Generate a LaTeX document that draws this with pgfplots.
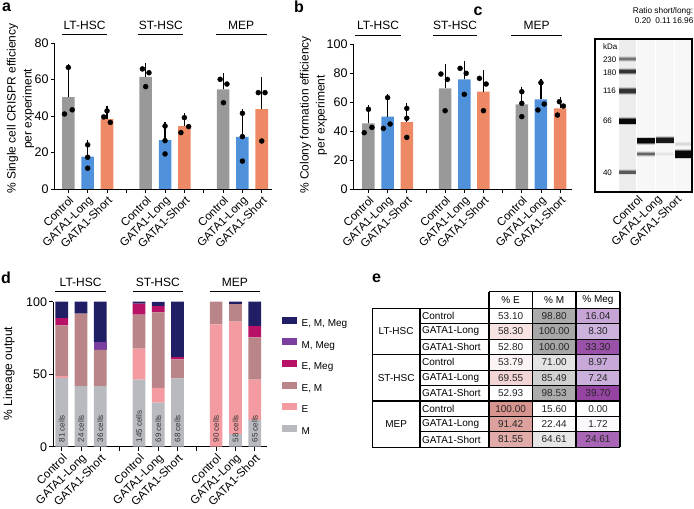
\documentclass[border=0pt]{standalone}
\usepackage{pgfplots}
\pgfplotsset{compat=1.18}
\usepackage{fontspec}
\setmainfont{Liberation Sans}
\definecolor{cgray}{RGB}{153,153,153}
\definecolor{cblue}{RGB}{79,146,219}
\definecolor{corange}{RGB}{238,137,102}
\definecolor{dM}{RGB}{184,186,191}
\definecolor{dE}{RGB}{243,155,161}
\definecolor{dEM}{RGB}{186,133,137}
\definecolor{dEMeg}{RGB}{183,18,102}
\definecolor{dMMeg}{RGB}{123,63,160}
\definecolor{dEMMeg}{RGB}{32,30,100}
\definecolor{tE1}{HTML}{F8E3E3}
\definecolor{tE3}{HTML}{FCF4F4}
\definecolor{tE4}{HTML}{F3D5D5}
\definecolor{tE6}{HTML}{D8948F}
\definecolor{tE7}{HTML}{DCA19D}
\definecolor{tE8}{HTML}{E0ABA8}
\definecolor{tM0}{HTML}{ABABAB}
\definecolor{tM1}{HTML}{A7A7A7}
\definecolor{tM3}{HTML}{E4E4E4}
\definecolor{tM4}{HTML}{D0D0D0}
\definecolor{tM5}{HTML}{ACACAC}
\definecolor{tM8}{HTML}{E6E6E6}
\definecolor{tG0}{HTML}{C6A5D6}
\definecolor{tG1}{HTML}{CCB2DC}
\definecolor{tG2}{HTML}{9B50A9}
\definecolor{tG3}{HTML}{C7A8D8}
\definecolor{tG4}{HTML}{CBB0DB}
\definecolor{tG5}{HTML}{9545A1}
\definecolor{tG7}{HTML}{FBF9FC}
\definecolor{tG8}{HTML}{AA66B6}
\newcommand{\fs}[1]{\fontsize{#1}{#1}\selectfont}
\newcommand{\fsl}[2]{\fontsize{#1}{#2}\selectfont}
\newcommand{\band}[7]{%
 \addplot[black!#7, line width=#4+3.5pt, forget plot] coordinates {(#1,#3) (#2,#3)};
 \addplot[black!#6, line width=#4+1.5pt, forget plot] coordinates {(#1,#3) (#2,#3)};
 \addplot[black!#5, line width=#4, forget plot] coordinates {(#1,#3) (#2,#3)};}
\newcommand{\cell}[5]{\addplot[fill=#5, draw=none, forget plot] coordinates {(#1,#3) (#2,#3) (#2,#4) (#1,#4)} --cycle;}
\newcommand{\cnt}[2]{\node[rotate=90, anchor=west, font=\fs{8}, text=black!80, inner sep=0pt] at (axis cs:#1,3) {#2 cells};}
\newcommand{\trow}[5]{%
  \node[anchor=west, font=\fs{10}, inner sep=0pt] at (axis cs:422,#1) {#2};
  \node[font=\fs{10}, text=black!85] at (axis cs:510.65,#1) {#3};
  \node[font=\fs{10}, text=black!85] at (axis cs:554.15,#1) {#4};
  \node[font=\fs{10}, text=black!85] at (axis cs:598,#1) {#5};}
\pgfplotsset{
  barpanel/.style={
    scale only axis, axis lines=left, axis line style={-, line width=0.9pt},
    tick align=outside, major tick length=4pt,
    tick style={line width=0.9pt, black},
    xtick={0,...,10},
    xticklabels={Control,GATA1-Long,GATA1-Short,,Control,GATA1-Long,GATA1-Short,,Control,GATA1-Long,GATA1-Short},
    xticklabel style={rotate=45, anchor=north east, inner sep=1.5pt, font=\fs{11.5}},
    yticklabel style={font=\fs{12.5}, inner sep=2pt},
    ylabel style={font=\fsl{12}{16}, align=center, anchor=center},
    /pgf/number format/assume math mode=true,
    clip=false,
  },
  bars/.style={ybar, bar width=0.65, bar shift=0pt, draw=none, fill=#1,
    error bars/.cd, y dir=plus, y explicit,
    error bar style={line width=1.1pt, black},
    error mark options={line width=1.1pt, black, mark size=4pt}},
  dots/.style={only marks, mark=*, mark size=2.5pt, black, mark options={fill=black}},
}
\begin{document}
\begin{tikzpicture}
\useasboundingbox (0,0) rectangle (694pt,509pt);
% panel letters
\node[font=\bfseries\fs{16}] at (6.5pt,502pt) {a};
\node[font=\bfseries\fs{16}] at (299pt,502pt) {b};
\node[font=\bfseries\fs{16}] at (478pt,498pt) {c};
\node[font=\bfseries\fs{16}] at (6pt,231pt) {d};
\node[font=\bfseries\fs{16}] at (376.5pt,231pt) {e};

% ---------------- panel a
\begin{axis}[barpanel, at={(54.8pt,320pt)}, anchor=south west, width=217pt, height=146pt,
  xmin=-0.7, xmax=10.52, ymin=0, ymax=80, ytick={0,20,40,60,80},
  ylabel={\% Single cell CRISPR efficiency\\per experiment},
  ylabel style={at={(axis description cs:-0.158,0.55)}}]
\addplot[bars=cgray] coordinates {(0,50.3) +- (0,16) (4,61.5) +- (0,5.2) (8,54.6) +- (0,6.9)};
\addplot[bars=cblue] coordinates {(1,17.7) +- (0,7) (5,26.8) +- (0,7.7) (9,28.5) +- (0,13)};
\addplot[bars=corange] coordinates {(2,38.3) +- (0,5) (6,34.5) +- (0,5) (10,43.7) +- (0,15.5)};
\addplot[dots] coordinates {(-0.2,41.1)(0,66.6)(0.2,43.4)
 (1,24.2)(1,17.4)(1,11.4)
 (1.83,39.5)(2,42.8)(2.17,36.5)
 (3.83,65.8)(4.17,63.7)(4,56.1)
 (5,34.5)(5,26.5)(5,19.2)
 (5.82,30.9)(6,39.1)(6.22,34.2)
 (7.85,60.1)(8.2,57.5)(8.02,47.3)
 (9,41.5)(9,28.7)(9,15.3)
 (9.82,52.8)(10.17,52.8)(10,26.3)};
\draw[line width=1pt] (axis cs:-0.33,84.4) -- (axis cs:2.0,84.4);
\draw[line width=1pt] (axis cs:3.62,84.4) -- (axis cs:5.95,84.4);
\draw[line width=1pt] (axis cs:7.62,84.4) -- (axis cs:10.26,84.4);
\node[font=\fs{12}] at (axis cs:0.84,89.9) {LT-HSC};
\node[font=\fs{12}] at (axis cs:4.78,89.9) {ST-HSC};
\node[font=\fs{12}] at (axis cs:8.94,89.9) {MEP};
\end{axis}

% ---------------- panel b
\begin{axis}[barpanel, at={(353.7pt,320pt)}, anchor=south west, width=218.5pt, height=145pt,
  xmin=-0.77, xmax=10.63, ymin=0, ymax=100, ytick={0,20,40,60,80,100},
  ylabel={\% Colony formation efficiency\\per experiment},
  ylabel style={at={(axis description cs:-0.184,0.51)}}]
\addplot[bars=cgray] coordinates {(0,45.3) +- (0,9.7) (4,69.4) +- (0,13.8) (8,58.4) +- (0,9.4)};
\addplot[bars=cblue] coordinates {(1,49.9) +- (0,13) (5,75.6) +- (0,9.9) (9,61.8) +- (0,11.5)};
\addplot[bars=corange] coordinates {(2,46.2) +- (0,10.1) (6,67.1) +- (0,12.2) (10,55.6) +- (0,5.3)};
\addplot[dots] coordinates {(-0.22,38.8)(0.18,42.5)(0,55.0)
 (0.78,41.8)(1.13,44.8)(1.0,63.0)
 (2,55.6)(2,48.8)(2,35.6)
 (3.78,79.3)(4.12,75.6)(4,54.0)
 (4.78,83.2)(5.1,79.8)(5,65.3)
 (5.79,76.3)(6.14,72.4)(6,54.0)
 (8,67.1)(8,59.1)(8,49.9)
 (9,73.3)(8.84,54.5)(9.17,58.6)
 (9.96,60.2)(10.17,57.2)(9.86,51.0)};
\draw[line width=1pt] (axis cs:-0.69,106.2) -- (axis cs:1.7,106.2);
\draw[line width=1pt] (axis cs:3.36,106.2) -- (axis cs:5.68,106.2);
\draw[line width=1pt] (axis cs:7.45,106.2) -- (axis cs:10.1,106.2);
\node[font=\fs{12}] at (axis cs:0.5,113.1) {LT-HSC};
\node[font=\fs{12}] at (axis cs:4.52,113.1) {ST-HSC};
\node[font=\fs{12}] at (axis cs:8.78,113.1) {MEP};
\end{axis}

% ---------------- panel c
\begin{axis}[scale only axis, at={(595pt,317pt)}, anchor=south west, width=97pt, height=153pt,
  xmin=-1.74, xmax=3.45, ymin=39, ymax=192, y dir=reverse,
  axis line style={line width=1.5pt}, ytick=\empty,
  xtick={0.53,1.56,2.6}, xticklabels={Control,GATA1-Long,GATA1-Short},
  xtick style={draw=none},
  xticklabel style={rotate=45, anchor=north east, inner sep=1.5pt, font=\fs{11.5}},
  clip=false]
\addplot[fill=black!7, draw=none, forget plot] coordinates {(-0.46,40) (0.46,40) (0.46,191) (-0.46,191)} --cycle;
\addplot[fill=black!3, draw=none, forget plot] coordinates {(0.53,40) (1.47,40) (1.47,191) (0.53,191)} --cycle;
\addplot[fill=black!3, draw=none, forget plot] coordinates {(1.53,40) (2.47,40) (2.47,191) (1.53,191)} --cycle;
\addplot[fill=black!3, draw=none, forget plot] coordinates {(2.53,40) (3.42,40) (3.42,191) (2.53,191)} --cycle;
\band{-0.46}{0.46}{59.2}{2.5pt}{55}{35}{15}
\band{-0.46}{0.46}{71.7}{3.5pt}{80}{50}{20}
\band{-0.46}{0.46}{91.2}{4pt}{80}{50}{20}
\band{-0.46}{0.46}{121.2}{5pt}{97}{60}{25}
\band{-0.46}{0.46}{172.2}{3pt}{65}{40}{15}
\band{0.53}{1.47}{140.8}{5pt}{97}{60}{20}
\band{0.53}{1.47}{154.2}{2.5pt}{60}{35}{12}
\band{1.53}{2.47}{140.3}{4.5pt}{90}{55}{18}
\band{1.53}{2.47}{154}{2pt}{10}{6}{3}
\band{2.53}{3.42}{144}{2.5pt}{15}{9}{4}
\band{2.53}{3.42}{154.2}{7pt}{97}{60}{20}
\node[anchor=west, font=\fs{8}] at (axis cs:-1.5,47) {kDa};
\node[anchor=west, font=\fs{8}] at (axis cs:-1.5,59.3) {230};
\node[anchor=west, font=\fs{8}] at (axis cs:-1.5,72.7) {180};
\node[anchor=west, font=\fs{8}] at (axis cs:-1.5,90.7) {116};
\node[anchor=west, font=\fs{8}] at (axis cs:-1.5,120.7) {66};
\node[anchor=west, font=\fs{8}] at (axis cs:-1.5,172.3) {40};
\node[font=\fs{8.3}] at (axis cs:1.9,11.7) {Ratio short/long:};
\node[font=\fs{8.3}] at (axis cs:0.83,20.3) {0.20};
\node[font=\fs{8.3}] at (axis cs:1.9,20.3) {0.11};
\node[font=\fs{8.3}] at (axis cs:2.97,20.3) {16.96};
\end{axis}

% ---------------- panel d
\begin{axis}[barpanel, ybar stacked, bar width=0.66, at={(53.3pt,62.3pt)}, anchor=south west,
  width=213.4pt, height=145pt,
  xmin=-0.435, xmax=10.62, ymin=0, ymax=100, ytick={0,50,100},
  ylabel={\% Lineage output}, ylabel style={at={(axis description cs:-0.208,0.505)}},
  reverse legend, legend cell align=left,
  legend image code/.code={\fill[#1] (0pt,0pt) rectangle (15pt,7pt);},
  legend style={at={(axis description cs:1.07,0.897)}, anchor=north west, draw=none, fill=none,
    inner sep=0pt, outer sep=0pt, font=\fs{10}, row sep=9.9pt,
    nodes={inner sep=0pt, text height=7.5pt, text depth=2pt},
    /tikz/every odd column/.append style={column sep=5pt}},
  after end axis/.code={\cnt{0}{81}\cnt{1}{24}\cnt{2}{36}\cnt{4}{145}\cnt{5}{69}\cnt{6}{68}\cnt{8}{90}\cnt{9}{58}\cnt{10}{65}}]
\addplot[fill=dM, draw=none] coordinates {(0,47.5)(1,41.7)(2,41.7)(4,46.2)(5,30.4)(6,47.1)(8,0)(9,8.6)(10,18.5)};
\addlegendentry{M}
\addplot[fill=dE, draw=none] coordinates {(0,1.2)(1,0)(2,0)(4,21.4)(5,10.1)(6,0)(8,84.4)(9,77.6)(10,27.7)};
\addlegendentry{E}
\addplot[fill=dEM, draw=none] coordinates {(0,35.0)(1,50.0)(2,25.0)(4,23.4)(5,52.2)(6,13.2)(8,15.6)(9,12.1)(10,29.2)};
\addlegendentry{E, M}
\addplot[fill=dEMeg, draw=none] coordinates {(0,4.9)(1,0)(2,0)(4,7.6)(5,4.3)(6,1.5)(8,0)(9,0)(10,7.7)};
\addlegendentry{E, Meg}
\addplot[fill=dMMeg, draw=none] coordinates {(0,0)(1,0)(2,5.6)(4,0)(5,0)(6,0)(8,0)(9,0)(10,0)};
\addlegendentry{M, Meg}
\addplot[fill=dEMMeg, draw=none] coordinates {(0,11.4)(1,8.3)(2,27.7)(4,1.4)(5,2.9)(6,38.2)(8,0)(9,1.7)(10,16.9)};
\addlegendentry{E, M, Meg}
\draw[line width=1pt] (axis cs:-0.35,106.9) -- (axis cs:2.3,106.9);
\draw[line width=1pt] (axis cs:3.69,106.9) -- (axis cs:6.28,106.9);
\draw[line width=1pt] (axis cs:7.67,106.9) -- (axis cs:10.27,106.9);
\node[font=\fs{12}] at (axis cs:0.98,113.4) {LT-HSC};
\node[font=\fs{12}] at (axis cs:4.98,113.4) {ST-HSC};
\node[font=\fs{12}] at (axis cs:8.97,113.4) {MEP};
\end{axis}

% ---------------- panel e
\begin{axis}[scale only axis, hide axis, at={(372.3pt,61.7pt)}, anchor=south west,
  width=247.7pt, height=155.6pt,
  xmin=372.3, xmax=620, ymin=291.7, ymax=447.3, y dir=reverse, clip=false]
\cell{489}{532.3}{323.74}{339.18}{tE1}
\cell{489}{532.3}{354.62}{370.06}{tE3}
\cell{489}{532.3}{370.06}{385.5}{tE4}
\cell{489}{532.3}{400.94}{416.38}{tE6}
\cell{489}{532.3}{416.38}{431.82}{tE7}
\cell{489}{532.3}{431.82}{447.26}{tE8}
\cell{532.3}{576}{308.3}{323.74}{tM0}
\cell{532.3}{576}{323.74}{339.18}{tM1}
\cell{532.3}{576}{339.18}{354.62}{tM1}
\cell{532.3}{576}{354.62}{370.06}{tM3}
\cell{532.3}{576}{370.06}{385.5}{tM4}
\cell{532.3}{576}{385.5}{400.94}{tM5}
\cell{532.3}{576}{431.82}{447.26}{tM8}
\cell{576}{620}{308.3}{323.74}{tG0}
\cell{576}{620}{323.74}{339.18}{tG1}
\cell{576}{620}{339.18}{354.62}{tG2}
\cell{576}{620}{354.62}{370.06}{tG3}
\cell{576}{620}{370.06}{385.5}{tG4}
\cell{576}{620}{385.5}{400.94}{tG5}
\cell{576}{620}{416.38}{431.82}{tG7}
\cell{576}{620}{431.82}{447.26}{tG8}
\draw[line width=0.9pt] (axis cs:420,323.74) -- (axis cs:620,323.74);
\draw[line width=0.9pt] (axis cs:420,339.18) -- (axis cs:620,339.18);
\draw[line width=0.9pt] (axis cs:420,370.06) -- (axis cs:620,370.06);
\draw[line width=0.9pt] (axis cs:420,385.5) -- (axis cs:620,385.5);
\draw[line width=0.9pt] (axis cs:420,416.38) -- (axis cs:620,416.38);
\draw[line width=0.9pt] (axis cs:420,431.82) -- (axis cs:620,431.82);
\draw[line width=1.5pt] (axis cs:372.3,308.3) -- (axis cs:620,308.3);
\draw[line width=1.5pt] (axis cs:372.3,354.62) -- (axis cs:620,354.62);
\draw[line width=1.5pt] (axis cs:372.3,400.94) -- (axis cs:620,400.94);
\draw[line width=1.5pt] (axis cs:489,291.7) -- (axis cs:620,291.7);
\draw[line width=1.5pt] (axis cs:372.3,447.26) -- (axis cs:620,447.26);
\draw[line width=1.5pt] (axis cs:372.3,308.3) -- (axis cs:372.3,447.26);
\draw[line width=1.5pt] (axis cs:420,308.3) -- (axis cs:420,447.26);
\draw[line width=1.5pt] (axis cs:489,291.7) -- (axis cs:489,447.26);
\draw[line width=1.3pt] (axis cs:532.3,291.7) -- (axis cs:532.3,447.26);
\draw[line width=1.3pt] (axis cs:576,291.7) -- (axis cs:576,447.26);
\draw[line width=1.5pt] (axis cs:620,291.7) -- (axis cs:620,447.26);
\node[font=\fs{10}] at (axis cs:510.65,300) {\% E};
\node[font=\fs{10}] at (axis cs:554.15,300) {\% M};
\node[font=\fs{10}] at (axis cs:598,300) {\% Meg};
\node[font=\fs{10}] at (axis cs:396.15,331.5) {LT-HSC};
\node[font=\fs{10}] at (axis cs:396.15,377.8) {ST-HSC};
\node[font=\fs{10}] at (axis cs:396.15,424.1) {MEP};
\trow{316.02}{Control}{53.10}{98.80}{16.04}
\trow{331.46}{GATA1-Long}{58.30}{100.00}{8.30}
\trow{346.90}{GATA1-Short}{52.80}{100.00}{33.30}
\trow{362.34}{Control}{53.79}{71.00}{8.97}
\trow{377.78}{GATA1-Long}{69.55}{85.49}{7.24}
\trow{393.22}{GATA1-Short}{52.93}{98.53}{39.70}
\trow{408.66}{Control}{100.00}{15.60}{0.00}
\trow{424.10}{GATA1-Long}{91.42}{22.44}{1.72}
\trow{439.54}{GATA1-Short}{81.55}{64.61}{24.61}
\end{axis}
\end{tikzpicture}
\end{document}
